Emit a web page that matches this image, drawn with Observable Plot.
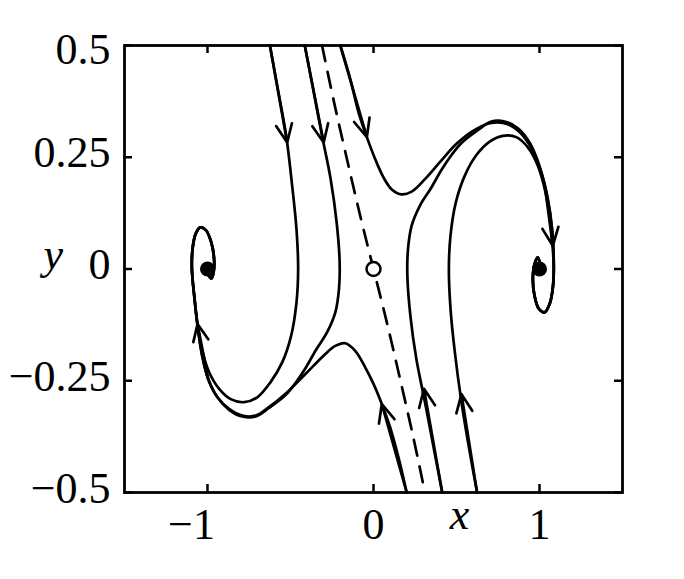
<!DOCTYPE html>
<html><head><meta charset="utf-8">
<script src="https://cdn.jsdelivr.net/npm/d3@7"></script>
<script src="https://cdn.jsdelivr.net/npm/@observablehq/plot@0.6"></script>
<style>html,body{margin:0;padding:0;background:#fff}</style>
</head><body><div id="chart"></div>
<script>
// Axis ticks and labels
const xTicks = [-1, 0, 1];
const xTickLabels = ["−1", "0", "1"];
const yTicks = [-0.5, -0.25, 0, 0.25, 0.5];
const yTickLabels = ["−0.5", "−0.25", "0", "0.25", "0.5"];

// Trajectories (x, y)
const curveA = [[-0.624,0.500],[-0.580,0.410],[-0.526,0.298],[-0.490,0.186],[-0.464,0.089],[-0.454,0.000],[-0.464,-0.075],[-0.496,-0.149],[-0.550,-0.209],[-0.620,-0.253],[-0.700,-0.287],[-0.780,-0.298],[-0.860,-0.291],[-0.930,-0.268],[-0.990,-0.231],[-1.034,-0.179],[-1.060,-0.125],[-1.078,-0.067],[-1.094,0.000],[-1.090,0.045],[-1.072,0.078],[-1.044,0.093],[-1.010,0.087],[-0.980,0.063],[-0.962,0.030],[-0.962,-0.004],[-0.976,-0.021],[-0.992,-0.015],[-0.998,0.000]];
const curveB = [[-0.414,0.500],[-0.364,0.403],[-0.310,0.298],[-0.258,0.201],[-0.222,0.104],[-0.204,0.015],[-0.208,-0.045],[-0.230,-0.097],[-0.280,-0.142],[-0.345,-0.180],[-0.410,-0.222],[-0.470,-0.255],[-0.530,-0.282],[-0.630,-0.311],[-0.710,-0.330],[-0.790,-0.330],[-0.870,-0.315],[-0.940,-0.287],[-0.996,-0.246],[-1.032,-0.194],[-1.058,-0.130],[-1.078,-0.067],[-1.094,0.000],[-1.090,0.045],[-1.072,0.078],[-1.044,0.093],[-1.010,0.087],[-0.980,0.063],[-0.962,0.030],[-0.962,-0.004],[-0.976,-0.021],[-0.992,-0.015],[-0.998,0.000]];
const curveC = [[-0.200,0.500],[-0.140,0.425],[-0.090,0.350],[-0.040,0.295],[0.010,0.246],[0.060,0.205],[0.110,0.178],[0.170,0.167],[0.230,0.173],[0.310,0.201],[0.400,0.239],[0.500,0.280],[0.600,0.309],[0.700,0.326],[0.780,0.327],[0.860,0.313],[0.936,0.280],[1.004,0.224],[1.050,0.157],[1.076,0.089],[1.086,0.015],[1.082,-0.037],[1.062,-0.077],[1.030,-0.097],[0.996,-0.089],[0.970,-0.060],[0.960,-0.022],[0.970,0.011],[0.990,0.026],[1.002,0.012]];
const curveD = [[0.624,-0.500],[0.580,-0.410],[0.530,-0.298],[0.490,-0.186],[0.464,-0.089],[0.454,0.000],[0.464,0.075],[0.496,0.149],[0.550,0.209],[0.620,0.255],[0.700,0.285],[0.780,0.298],[0.860,0.295],[0.930,0.272],[0.990,0.231],[1.036,0.172],[1.066,0.104],[1.080,0.045],[1.086,0.000],[1.080,-0.041],[1.062,-0.077],[1.030,-0.097],[0.996,-0.089],[0.970,-0.060],[0.960,-0.022],[0.970,0.011],[0.990,0.026],[1.002,0.012]];
const curveE = [[0.414,-0.500],[0.364,-0.403],[0.310,-0.298],[0.258,-0.201],[0.222,-0.104],[0.204,-0.015],[0.208,0.045],[0.230,0.097],[0.280,0.142],[0.345,0.180],[0.410,0.222],[0.470,0.255],[0.530,0.282],[0.630,0.311],[0.710,0.330],[0.790,0.330],[0.870,0.315],[0.942,0.282],[1.002,0.228],[1.048,0.159],[1.075,0.090],[1.086,0.015],[1.082,-0.037],[1.062,-0.077],[1.030,-0.097],[0.996,-0.089],[0.970,-0.060],[0.960,-0.022],[0.970,0.011],[0.990,0.026],[1.002,0.012]];
const curveF = [[0.200,-0.500],[0.150,-0.421],[0.100,-0.354],[0.050,-0.302],[0.000,-0.257],[-0.050,-0.220],[-0.110,-0.183],[-0.170,-0.166],[-0.230,-0.172],[-0.290,-0.190],[-0.410,-0.235],[-0.530,-0.279],[-0.630,-0.309],[-0.710,-0.328],[-0.790,-0.328],[-0.870,-0.313],[-0.940,-0.287],[-0.996,-0.246],[-1.032,-0.194],[-1.058,-0.134],[-1.078,-0.067],[-1.094,0.000],[-1.090,0.045],[-1.072,0.078],[-1.044,0.093],[-1.010,0.087],[-0.980,0.063],[-0.962,0.030],[-0.962,-0.004],[-0.976,-0.021],[-0.992,-0.015],[-0.998,0.000]];
const separatrix = [[-0.310,0.500],[-0.240,0.377],[-0.160,0.246],[-0.080,0.119],[0.000,0.000],[0.080,-0.119],[0.160,-0.246],[0.240,-0.377],[0.310,-0.500]];

// Direction arrows: tail and tip points on the trajectories
const arrowTails = [[-0.624,0.500],[-0.414,0.500],[-0.200,0.500],[1.032,0.186],[-0.996,-0.246],[0.200,-0.500],[0.414,-0.500],[0.624,-0.500]];
const arrowTips  = [[-0.520,0.283],[-0.300,0.283],[-0.040,0.295],[1.080,0.052],[-1.060,-0.123],[0.050,-0.302],[0.304,-0.268],[0.530,-0.280]];

// Equilibria
const stableX = [-1, 1];
const stableY = [0, 0];
const saddleX = [0];
const saddleY = [0];

const curves = [curveA, curveB, curveC, curveD, curveE, curveF];
const arrows = arrowTips.map((t, i) => ({x1: arrowTails[i][0], y1: arrowTails[i][1], x2: t[0], y2: t[1]}));
const stable = stableX.map((x, i) => ({x, y: stableY[i]}));
const saddle = saddleX.map((x, i) => ({x, y: saddleY[i]}));
const fmtX = d => xTickLabels[xTicks.indexOf(d)];
const fmtY = d => yTickLabels[yTicks.indexOf(d)];
const font = "'Liberation Serif', 'DejaVu Serif', serif";
const lw = 2.7;

const W = 684, H = 579, mL = 124, mR = 62, mT = 45, mB = 87;
const plotW = W - mL - mR, plotH = H - mT - mB, tk = 8;

const chart = Plot.plot({
  width: W, height: H,
  marginLeft: mL, marginRight: mR, marginTop: mT, marginBottom: mB,
  x: {domain: [-1.5, 1.5]},
  y: {domain: [-0.5, 0.5]},
  style: {fontFamily: font, fontSize: "44px", background: "white", color: "black", overflow: "visible"},
  marks: [
    ...curves.map(c => Plot.line(c, {x: d => d[0], y: d => d[1], curve: "catmull-rom", stroke: "black", strokeWidth: lw})),
    Plot.line(separatrix, {x: d => d[0], y: d => d[1], curve: "catmull-rom", stroke: "black", strokeWidth: lw, strokeDasharray: "16,11"}),
    Plot.arrow(arrows, {x1: "x1", y1: "y1", x2: "x2", y2: "y2", stroke: "black", strokeWidth: lw, headLength: 11, headAngle: 48}),
    Plot.dot(stable, {x: "x", y: "y", r: 7.5, fill: "black"}),
    Plot.dot(saddle, {x: "x", y: "y", r: 7, fill: "white", stroke: "black", strokeWidth: 2.5}),
    // inward ticks on all four sides
    Plot.tickX(xTicks, {x: d => d, insetTop: plotH - tk, stroke: "black", strokeWidth: 2.5}),
    Plot.tickX(xTicks, {x: d => d, insetBottom: plotH - tk, stroke: "black", strokeWidth: 2.5}),
    Plot.tickY(yTicks, {y: d => d, insetRight: plotW - tk, stroke: "black", strokeWidth: 2.5}),
    Plot.tickY(yTicks, {y: d => d, insetLeft: plotW - tk, stroke: "black", strokeWidth: 2.5}),
    Plot.frame({stroke: "black", strokeWidth: 2.8}),
    // tick labels
    Plot.axisX(xTicks.filter(d => d < 0), {anchor: "bottom", tickSize: 0, tickPadding: 15, dx: -16, tickFormat: fmtX, fontSize: 44, label: null}),
    Plot.axisX(xTicks.filter(d => d >= 0), {anchor: "bottom", tickSize: 0, tickPadding: 15, tickFormat: fmtX, fontSize: 44, label: null}),
    Plot.axisY(yTicks.filter(d => d < 0.5), {anchor: "left", tickSize: 0, tickPadding: 14, dy: -4, tickFormat: fmtY, fontSize: 44, label: null}),
    Plot.axisY(yTicks.filter(d => d >= 0.5), {anchor: "left", tickSize: 0, tickPadding: 14, dy: 4, tickFormat: fmtY, fontSize: 44, label: null}),
    // axis names
    Plot.text(["x"], {frameAnchor: "bottom", dx: 86, dy: 36, fontStyle: "italic", fontSize: 44}),
    Plot.text(["y"], {frameAnchor: "left", dx: -81, dy: -14, fontStyle: "italic", fontSize: 44})
  ]
});
document.getElementById("chart").appendChild(chart);
</script>
</body></html>
